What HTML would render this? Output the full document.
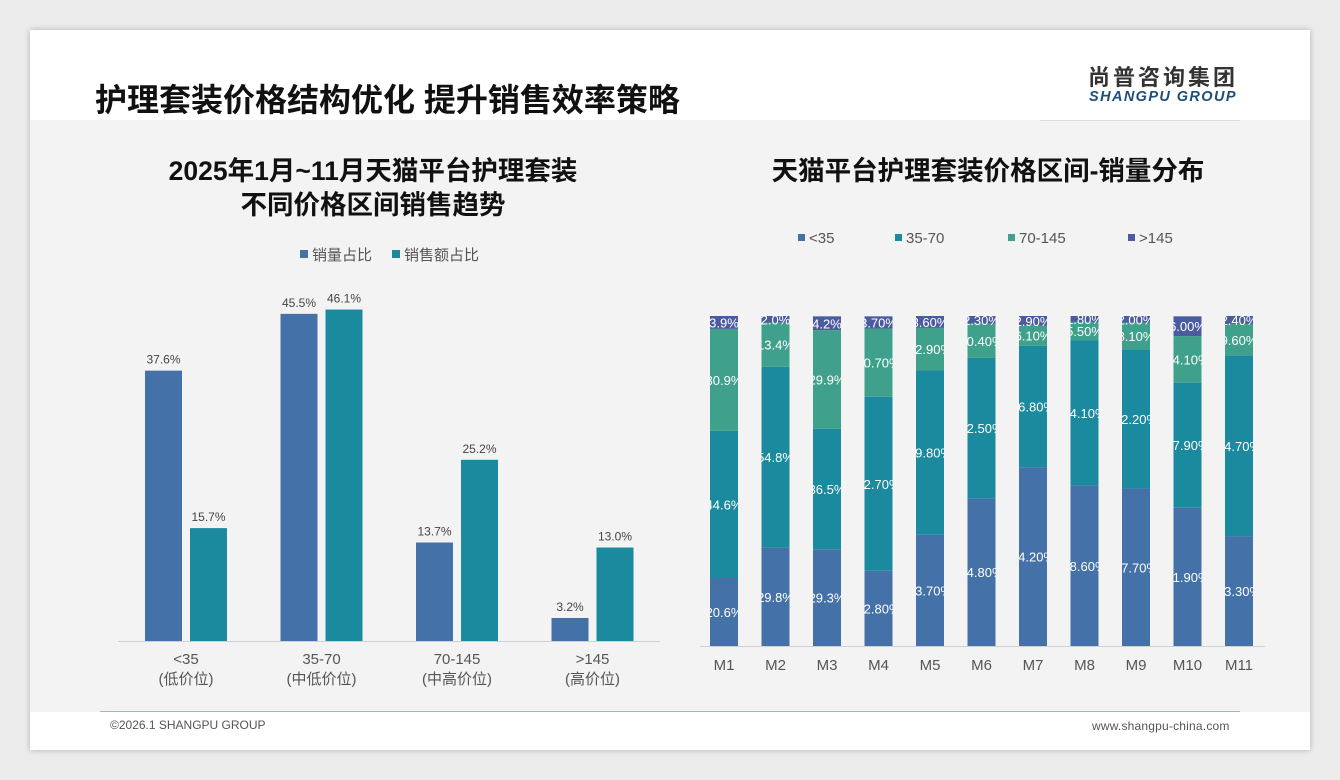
<!DOCTYPE html>
<html><head><meta charset="utf-8"><style>
body{margin:0;width:1340px;height:780px;background:#ececec;font-family:"Liberation Sans","Noto Sans CJK SC",sans-serif;overflow:hidden;position:relative}
.card{position:absolute;left:30px;top:30px;width:1280px;height:720px;background:#fff;box-shadow:0 0 6px rgba(0,0,0,.25)}
.content{position:absolute;left:0;top:90px;width:1280px;height:592px;background:#f3f3f3}
</style></head><body>
<div class="card">
<div style="position:absolute;left:65px;top:45px;font-size:32px;font-weight:bold;color:#111;white-space:nowrap">护理套装价格结构优化 提升销售效率策略</div>
<div style="position:absolute;left:1058px;top:30px;font-size:22px;font-weight:bold;color:#333;letter-spacing:3px;white-space:nowrap">尚普咨询集团</div>
<div style="position:absolute;left:1059px;top:59px;font-size:14.5px;font-weight:bold;font-style:italic;color:#1f4e79;letter-spacing:1.4px;white-space:nowrap">SHANGPU GROUP</div>
<div class="content"></div>
<div style="position:absolute;left:1010px;top:90px;width:200px;height:1px;background:#ddd"></div>
<div style="position:absolute;left:70px;top:681px;width:1140px;height:1px;background:#9db7d5"></div>
<div style="position:absolute;left:80px;top:688px;font-size:12px;color:#555">©2026.1 SHANGPU GROUP</div>
<div style="position:absolute;left:1062px;top:689px;font-size:12px;color:#555;letter-spacing:0.2px">www.shangpu-china.com</div>
</div>
<svg id="chart" width="1340" height="780" style="position:absolute;left:0;top:0">
<text x="373" y="180" text-anchor="middle" font-size="26.5" font-weight="bold" fill="#111">2025年1月~11月天猫平台护理套装</text>
<text x="373" y="214" text-anchor="middle" font-size="26.5" font-weight="bold" fill="#111">不同价格区间销售趋势</text>
<text x="988" y="180" text-anchor="middle" font-size="26.5" font-weight="bold" fill="#111">天猫平台护理套装价格区间-销量分布</text>
<g id="left"></g><g id="right"></g>
</svg>
<script>
const leftCats=["<35","35-70","70-145",">145"];
const leftSub=["(低价位)","(中低价位)","(中高价位)","(高价位)"];
const volShare=[37.6,45.5,13.7,3.2];
const salesShare=[15.7,46.1,25.2,13.0];
const months=["M1","M2","M3","M4","M5","M6","M7","M8","M9","M10","M11"];
const s1=[20.6,29.8,29.3,22.8,33.7,44.8,54.2,48.6,47.7,41.9,33.3];
const s2=[44.6,54.8,36.5,52.7,49.8,42.5,36.8,44.1,42.2,37.9,54.7];
const s3=[30.9,13.4,29.9,20.7,12.9,10.4,6.1,5.5,8.1,14.1,9.6];
const s4=[3.9,2.0,4.2,3.7,3.6,2.3,2.9,1.8,2.0,6.0,2.4];
const l1=["20.6%","29.8%","29.3%","22.80%","33.70%","44.80%","54.20%","48.60%","47.70%","41.90%","33.30%"];
const l2=["44.6%","54.8%","36.5%","52.70%","49.80%","42.50%","36.80%","44.10%","42.20%","37.90%","54.70%"];
const l3=["30.9%","13.4%","29.9%","20.70%","12.90%","10.40%","6.10%","5.50%","8.10%","14.10%","9.60%"];
const l4=["3.9%","2.0%","4.2%","3.70%","3.60%","2.30%","2.90%","1.80%","2.00%","6.00%","2.40%"];
const NS="http://www.w3.org/2000/svg";
function mk(p,t,a){const e=document.createElementNS(NS,t);for(const k in a)e.setAttribute(k,a[k]);p.appendChild(e);return e;}
const C1="#4472a8",C2="#1b8a9e",C3="#3fa18b",C4="#4b5b9f";
const L=document.getElementById('left');
const y0=641,py=7.19;
const lx=i=>186+i*135.5;
const ly=v=>y0-v*py;
let ln=mk(L,'line',{x1:118,x2:660,y1:641.5,y2:641.5,stroke:'#d0d0d0'});

[[C1,'销量占比',300],[C2,'销售额占比',392]].forEach((d,k)=>{
 const r=mk(L,'rect',{x:d[2],y:250,width:8,height:8,fill:d[0]});
 
 const t=mk(L,'text',{x:d[2]+12,y:260,'font-size':15,fill:'#555'});t.textContent=d[1];
 
});
leftCats.forEach((c,i)=>{
 [[volShare,C1,-41],[salesShare,C2,4]].forEach(d=>{
  const v=d[0][i];
  const r=mk(L,'rect',{x:lx(i)+d[2],y:ly(v),width:37,height:y0-ly(v),fill:d[1]});
  
  const t=mk(L,'text',{x:lx(i)+d[2]+18.5,y:ly(v)-7,'text-anchor':'middle','font-size':12,fill:'#444'});
  t.textContent=v.toFixed(1)+'%';
  
 });
 const t=mk(L,'text',{x:lx(i),y:664,'text-anchor':'middle','font-size':15,fill:'#555'});t.textContent=c;
 
 const t2=mk(L,'text',{x:lx(i),y:684,'text-anchor':'middle','font-size':15,fill:'#555'});t2.textContent=leftSub[i];
 
});
const R=document.getElementById('right');
const ry0=646,rh=330;
const rx=i=>724+i*51.5;
const rs=v=>v/100*rh;
[['<35',C1,798],['35-70',C2,895],['70-145',C3,1008],['>145',C4,1128]].forEach(d=>{
 const r=mk(R,'rect',{x:d[2],y:234,width:7,height:7,fill:d[1]});
 
 const t=mk(R,'text',{x:d[2]+11,y:243,'font-size':15,fill:'#555'});t.textContent=d[0];
 
});
const defs=mk(R,'defs',{});
months.forEach((m,i)=>{
 const cp=mk(defs,'clipPath',{id:'cp'+i});mk(cp,'rect',{x:rx(i)-14,y:300,width:28,height:350});
 let base=ry0;
 [[s1,l1,C1],[s2,l2,C2],[s3,l3,C3],[s4,l4,C4]].forEach(d=>{
  const h=rs(d[0][i]);
  const r=mk(R,'rect',{x:rx(i)-14,y:base-h,width:28,height:h,fill:d[2]});
  
  const t=mk(R,'text',{x:rx(i),y:base-h/2+5,'text-anchor':'middle','font-size':13,fill:'#fff','clip-path':'url(#cp'+i+')'});
  t.textContent=d[1][i];
  
  base-=h;
 });
 const t=mk(R,'text',{x:rx(i),y:670,'text-anchor':'middle','font-size':15,fill:'#555'});t.textContent=m;
 
});
ln=mk(R,'line',{x1:700,x2:1265,y1:646.5,y2:646.5,stroke:'#d0d0d0'});

</script>
</body></html>
